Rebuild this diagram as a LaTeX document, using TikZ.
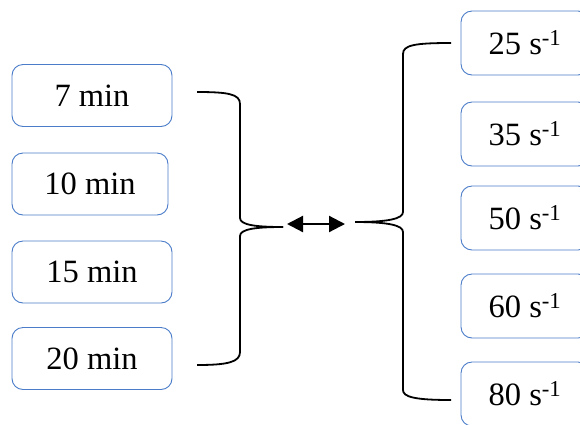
\documentclass[tikz,border=0pt]{standalone}
\usepackage{fontspec}
\setmainfont{Liberation Serif}
\usetikzlibrary{arrows.meta}
\definecolor{boxblue}{HTML}{4A7CC9}
\tikzset{
  valbox/.style={draw=boxblue, line width=0.9pt, rounded corners=11pt, fill=white,
    minimum height=62pt, inner sep=0pt, font=\fontsize{32.5}{36}\selectfont},
  brace/.style={line width=1.8pt, line cap=butt},
  link/.style={line width=2.2pt, {Triangle[length=16pt,width=16pt]}-{Triangle[length=16pt,width=16pt]}}
}
\begin{document}
\begin{tikzpicture}[x=1pt,y=-1pt]
\useasboundingbox (0,0) rectangle (580,424);
\clip (0,0) rectangle (580,424);

% durations
\node[valbox, minimum width=160pt] (t7)  at (92,95.5)  {7 min};
\node[valbox, minimum width=156pt] (t10) at (90,184)   {10 min};
\node[valbox, minimum width=160pt] (t15) at (92,272)   {15 min};
\node[valbox, minimum width=160pt] (t20) at (92,358.5) {20 min};

% shear rates
\node[valbox, minimum width=128pt, minimum height=64pt] (s25) at (525,43)  {25 s\textsuperscript{-1}};
\node[valbox, minimum width=128pt, minimum height=64pt] (s35) at (525,134) {35 s\textsuperscript{-1}};
\node[valbox, minimum width=128pt, minimum height=64pt] (s50) at (525,218) {50 s\textsuperscript{-1}};
\node[valbox, minimum width=128pt, minimum height=64pt] (s60) at (525,306) {60 s\textsuperscript{-1}};
\node[valbox, minimum width=128pt, minimum height=64pt] (s80) at (525,394) {80 s\textsuperscript{-1}};

% brace ends and tips
\coordinate (lt) at (197,92);
\coordinate (lb) at (197,365);
\coordinate (ltip) at (283,227);
\coordinate (rt) at (451,43);
\coordinate (rb) at (451,400);
\coordinate (rtip) at (355,222);
\coordinate (al) at (287,224);
\coordinate (ar) at (345,224);

% left brace
\draw[brace] (lt) .. controls (228,92) and (240,94) .. (240,104)
  -- (240,218) .. controls (240,225) and (256,227) .. (ltip);
\draw[brace] (ltip) .. controls (256,227) and (240,229) .. (240,236)
  -- (240,352) .. controls (240,362) and (228,365) .. (lb);

% right brace
\draw[brace] (rt) .. controls (415,43) and (403,45) .. (403,54)
  -- (403,212) .. controls (403,219) and (387,222) .. (rtip);
\draw[brace] (rtip) .. controls (387,222) and (403,225) .. (403,232)
  -- (403,390) .. controls (403,397) and (415,400) .. (rb);

% two-way link
\draw[link] (al) -- (ar);
\end{tikzpicture}
\end{document}
